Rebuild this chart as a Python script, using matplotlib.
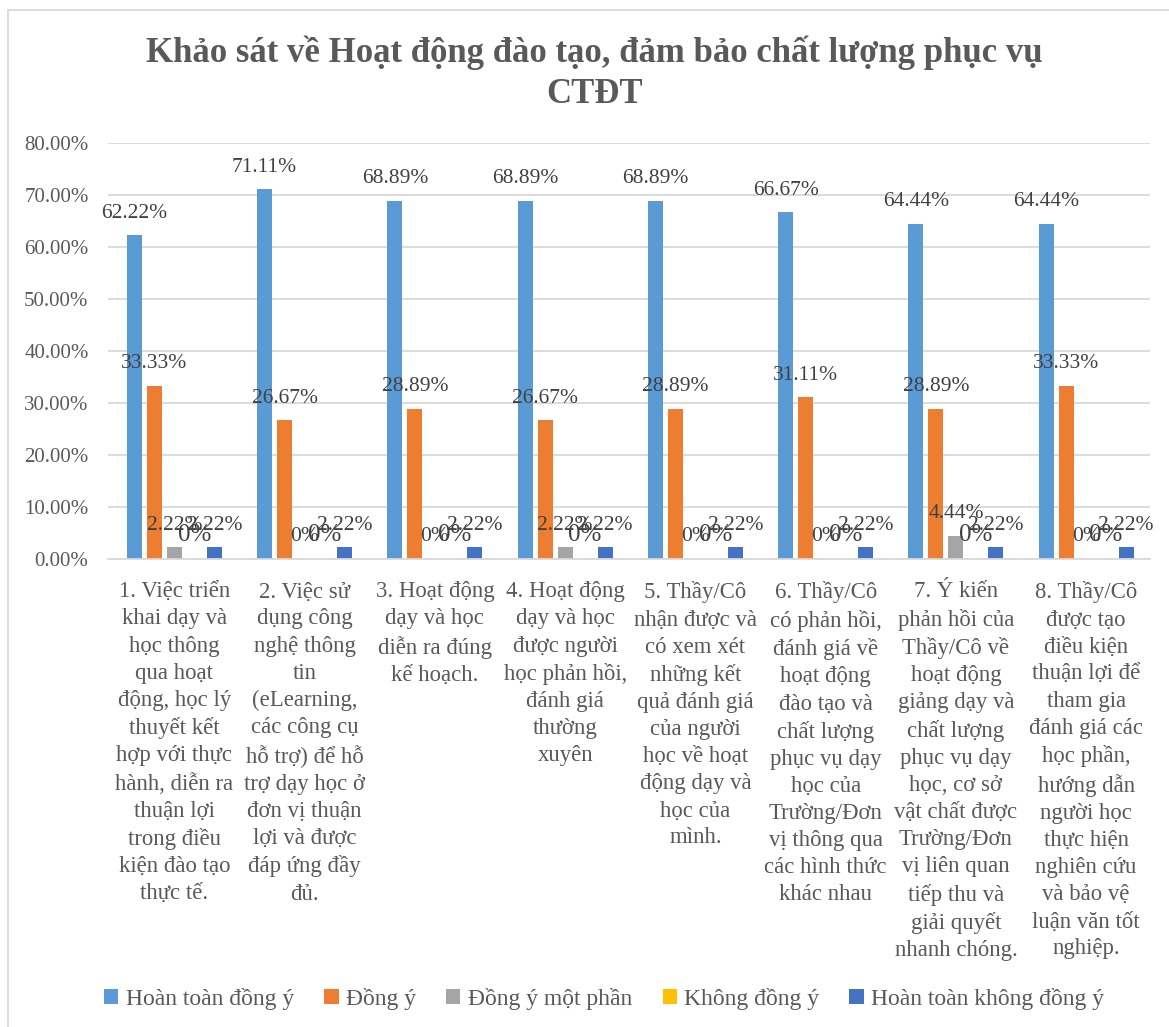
import matplotlib
matplotlib.use("Agg")
import matplotlib.pyplot as plt
import numpy as np
from matplotlib.patches import Rectangle
from matplotlib.ticker import FuncFormatter

plt.rcParams['font.family'] = ['Liberation Serif', 'DejaVu Serif']

title = "Khảo sát về Hoạt động đào tạo, đảm bảo chất lượng phục vụ\nCTĐT"
categories = [
    "1. Việc triển\nkhai dạy và\nhọc thông\nqua hoạt\nđộng, học lý\nthuyết kết\nhợp với thực\nhành, diễn ra\nthuận lợi\ntrong điều\nkiện đào tạo\nthực tế.",
    "2. Việc sử\ndụng công\nnghệ thông\ntin\n(eLearning,\ncác công cụ\nhỗ trợ) để hỗ\ntrợ dạy học ở\nđơn vị thuận\nlợi và được\nđáp ứng đầy\nđủ.",
    "3. Hoạt động\ndạy và học\ndiễn ra đúng\nkế hoạch.",
    "4. Hoạt động\ndạy và học\nđược người\nhọc phản hồi,\nđánh giá\nthường\nxuyên",
    "5. Thầy/Cô\nnhận được và\ncó xem xét\nnhững kết\nquả đánh giá\ncủa người\nhọc về hoạt\nđộng dạy và\nhọc của\nmình.",
    "6. Thầy/Cô\ncó phản hồi,\nđánh giá về\nhoạt động\nđào tạo và\nchất lượng\nphục vụ dạy\nhọc của\nTrường/Đơn\nvị thông qua\ncác hình thức\nkhác nhau",
    "7. Ý kiến\nphản hồi của\nThầy/Cô về\nhoạt động\ngiảng dạy và\nchất lượng\nphục vụ dạy\nhọc, cơ sở\nvật chất được\nTrường/Đơn\nvị liên quan\ntiếp thu và\ngiải quyết\nnhanh chóng.",
    "8. Thầy/Cô\nđược tạo\nđiều kiện\nthuận lợi để\ntham gia\nđánh giá các\nhọc phần,\nhướng dẫn\nngười học\nthực hiện\nnghiên cứu\nvà bảo vệ\nluận văn tốt\nnghiệp.",
]
series_names = ["Hoàn toàn đồng ý", "Đồng ý", "Đồng ý một phần", "Không đồng ý", "Hoàn toàn không đồng ý"]
hoan_toan_dong_y = [62.22, 71.11, 68.89, 68.89, 68.89, 66.67, 64.44, 64.44]
dong_y = [33.33, 26.67, 28.89, 26.67, 28.89, 31.11, 28.89, 33.33]
dong_y_mot_phan = [2.22, 0, 0, 2.22, 0, 0, 4.44, 0]
khong_dong_y = [0, 0, 0, 0, 0, 0, 0, 0]
hoan_toan_khong_dong_y = [2.22, 2.22, 2.22, 2.22, 2.22, 2.22, 2.22, 2.22]
series = [hoan_toan_dong_y, dong_y, dong_y_mot_phan, khong_dong_y, hoan_toan_khong_dong_y]
colors = ["#5B9BD5", "#ED7D31", "#A5A5A5", "#FFC000", "#4472C4"]
yticks = [0, 10, 20, 30, 40, 50, 60, 70, 80]

W, H = 1169, 1027
fig = plt.figure(figsize=(W / 100, H / 100), dpi=100)

# chart border
fig.patches.append(Rectangle((8 / W, -0.1), 1.2, 1 - 10 / H + 0.1, transform=fig.transFigure,
                             fill=False, edgecolor="#D9D9D9", linewidth=1.3))

ax = fig.add_axes([108 / W, 1 - 559 / H, (1150 - 108) / W, (559 - 143) / H])
x = np.arange(len(categories))
step = 0.1536
width = 0.115
for i, (vals, c) in enumerate(zip(series, colors)):
    pos = x + (i - 2) * step + 0.01
    ax.bar(pos, vals, width=width, color=c, zorder=2, label=series_names[i])
    for p, v in zip(pos, vals):
        lbl = "0%" if v == 0 else f"{v:.2f}%"
        fs = 18 if i == 3 else 15.5
        off = 17 if i == 3 else 16
        ax.annotate(lbl, (p, v), xytext=(0, off), textcoords="offset points",
                    ha="center", va="center", fontsize=fs, color="#404040", zorder=3)

ax.set_xlim(-0.5, len(categories) - 0.5)
ax.set_ylim(0, 80)
ax.set_yticks(yticks)
ax.yaxis.set_major_formatter(FuncFormatter(lambda v, p: f"{v:.2f}%"))
ax.grid(axis="y", color="#D9D9D9", linewidth=1.3, zorder=0)
ax.set_axisbelow(True)
for s in ["left", "right", "top"]:
    ax.spines[s].set_visible(False)
ax.spines["bottom"].set_color("#D9D9D9")
ax.spines["bottom"].set_linewidth(1.3)
ax.tick_params(axis="y", length=0, labelsize=15, labelcolor="#595959", pad=14)
ax.tick_params(axis="x", length=0)
ax.set_xticks(x)
ax.set_xticklabels([])
for xi, lab in zip(x, categories):
    ax.text(xi + 0.01, -4.3, lab, ha="center", va="top", fontsize=16.4, color="#595959",
            linespacing=1.38, transform=ax.transData)

fig.text(594 / W, 1 - 73 / H, title, ha="center", va="center", fontsize=25,
         fontweight="bold", color="#595959", linespacing=1.31)

handles, labels = ax.get_legend_handles_labels()
fig.legend(handles, labels, loc="center", bbox_to_anchor=(604 / W, 1 - 999 / H), ncol=5,
           frameon=False, fontsize=17, handlelength=0.6, handleheight=0.6,
           handletextpad=0.3, columnspacing=1.3, labelcolor="#595959")

fig.savefig("out.png", dpi=100)
